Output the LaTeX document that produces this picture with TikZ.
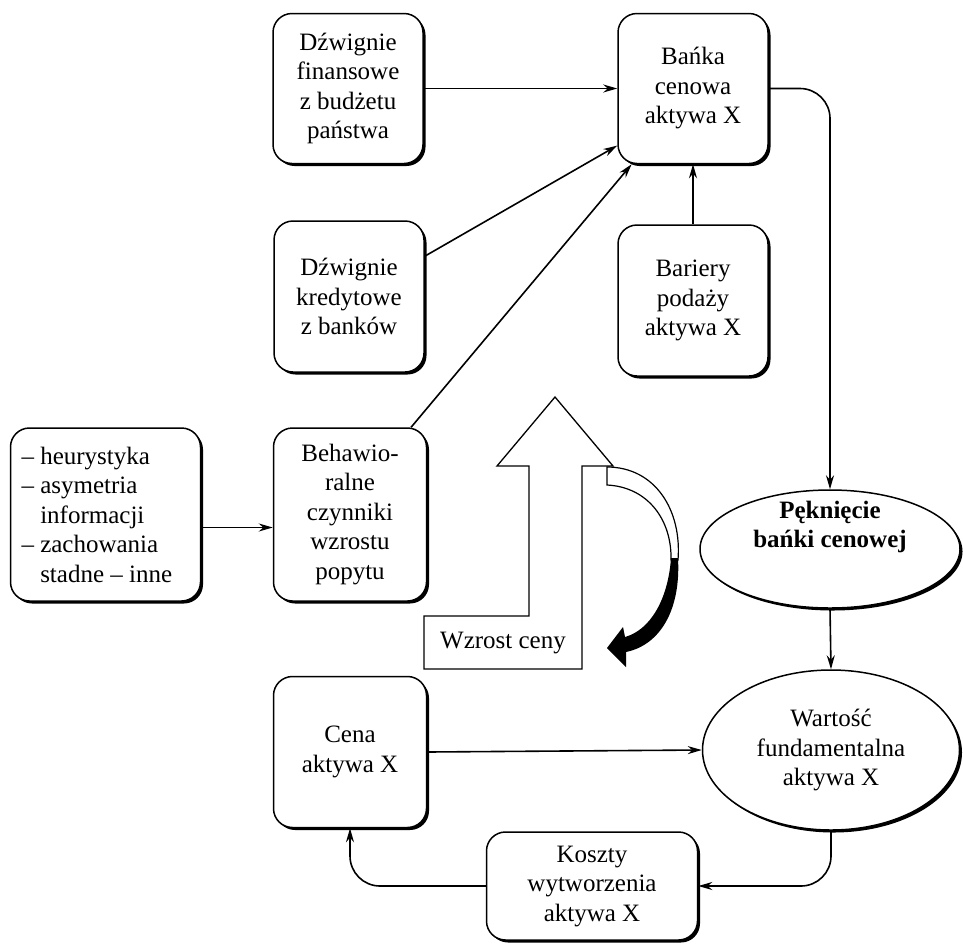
\documentclass[tikz,border=0pt]{standalone}
\usepackage{fontspec}
\setmainfont{Liberation Serif}
\usetikzlibrary{shapes.geometric,arrows.meta,shadows,calc}
\begin{document}
\begin{tikzpicture}[x=1pt,y=-1pt,
  txt/.style={font=\fontsize{25}{29.5}\selectfont},
  box/.style={txt, draw, line width=1.5pt, rounded corners=19pt, fill=white, align=center, inner sep=0pt,
    drop shadow={shadow xshift=2.5pt, shadow yshift=-2.5pt, fill=black, opacity=1}},
  oval/.style={txt, ellipse, draw, line width=1.5pt, fill=white, align=center, inner sep=0pt,
    drop shadow={shadow xshift=2.5pt, shadow yshift=-2.5pt, fill=black, opacity=1}},
  arr/.style={-{Stealth[length=14pt,width=8pt]}, line width=1.6pt},
]
\fill[white] (0,0) rectangle (963,943);
\useasboundingbox (0,0) rectangle (963,943);

% big upward arrow
\draw[line width=1.3pt, fill=white] (555,397) -- (613,466) -- (582,466) -- (582,669) -- (424,669) -- (424,616) -- (529,616) -- (529,466) -- (497,466) -- cycle;
\node[txt] (wzrost) at (503,643) {Wzrost ceny};

% curved arrow: white twisted part
\draw[line width=1.2pt, fill=white] (607,467) .. controls (655,467) and (682,510) .. (678,560)
  -- (671,560) .. controls (672,520) and (648,487) .. (607,485) -- cycle;
% black part
\fill[black] (678,558) .. controls (681,610) and (660,645) .. (626,652) -- (626,667) -- (607,648) -- (623,627)
  -- (625,637) .. controls (650,630) and (668,600) .. (671,558) -- cycle;

\node[box, minimum width=150pt, minimum height=150pt] (fin) at (348,88.5) {Dźwignie\\finansowe\\z budżetu\\państwa};
\node[box, minimum width=150pt, minimum height=150pt] (banka) at (693,88.5) {Bańka\\cenowa\\aktywa X};
\node[box, minimum width=150pt, minimum height=151pt] (kred) at (349,296.5) {Dźwignie\\kredytowe\\z banków};
\node[box, minimum width=150pt, minimum height=151pt] (bar) at (693,300.5) {Bariery\\podaży\\aktywa X};
\node[box, minimum width=190pt, minimum height=173pt, text width=168pt, align=flush left] (heur) at (105.5,514.5)
  {– heurystyka\\– asymetria\\\phantom{– }informacji\\– zachowania\\\phantom{– }stadne – inne};
\node[box, minimum width=153pt, minimum height=173pt] (beh) at (350,514.5) {Behawio-\\ralne\\czynniki\\wzrostu\\popytu};
\node[box, minimum width=153pt, minimum height=151pt] (cena) at (350,752) {Cena\\aktywa X};
\node[box, minimum width=211pt, minimum height=108pt] (koszty) at (592,886) {Koszty\\wytworzenia\\aktywa X};

\node[oval, minimum width=260pt, minimum height=118pt] (pek) at (830,549) {};
\node[txt, font=\fontsize{25}{29.5}\selectfont\bfseries, align=center] (pektxt) at (830,527) {Pęknięcie\\bańki cenowej};
\node[oval, minimum width=257pt, minimum height=160pt] (wart) at (831,750) {Wartość\\fundamentalna\\aktywa X};

% connectors
\draw[arr] (fin.east) -- (banka.west);
\draw[arr] (kred.28) -- (banka.217);
\draw[arr] (beh.55) -- (banka.231);
\draw[arr] (bar.north) -- (banka.south);
\draw[arr] ([yshift=-13pt]heur.east) -- ([yshift=-13pt]beh.west);
\draw[arr, rounded corners=30pt] (banka.east) -| (pek.north);
\draw[arr] (pek.south) -- (wart.north);
\draw[arr] (cena.east) -- (wart.west);
\draw[arr, rounded corners=30pt] (wart.south) |- (koszty.east);
\draw[arr, rounded corners=30pt] (koszty.west) -| (cena.south);
\end{tikzpicture}
\end{document}
